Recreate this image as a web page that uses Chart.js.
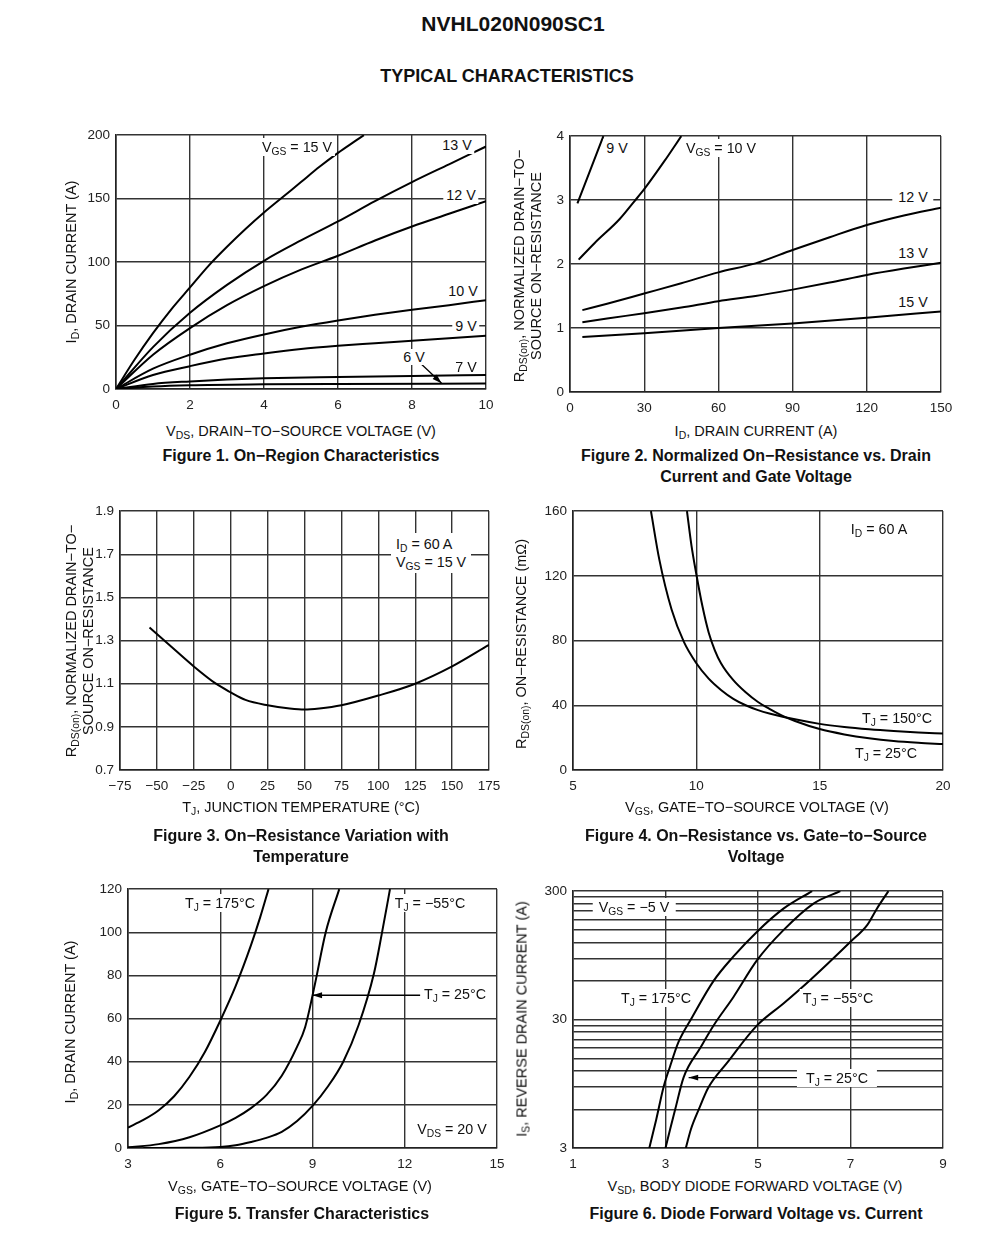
<!DOCTYPE html>
<html>
<head>
<meta charset="utf-8">
<script src="https://cdn.jsdelivr.net/npm/chart.js@4.4.1/dist/chart.umd.min.js"></script>
<style>
  body { margin: 0; background: #fff; font-family: "Liberation Sans", Arial, sans-serif; color: #111; }
  #page { position: relative; width: 1000px; height: 1250px; overflow: hidden; }
  canvas { position: absolute; }
  .head { position: absolute; font-weight: bold; white-space: nowrap; transform: translate(-50%, -50%); }
  .lbl { position: absolute; white-space: nowrap; font-size: 14.3px; line-height: 16px; background: #fff; padding: 1px 3px; transform: translate(-50%, -50%); }
  .box { position: absolute; white-space: nowrap; font-size: 14.3px; line-height: 18px; background: #fff; padding: 2px 5px; }
  .cap { position: absolute; font-weight: bold; font-size: 16px; line-height: 21px; text-align: center; white-space: nowrap; transform: translateX(-50%); }
  .xt { position: absolute; font-size: 14.5px; white-space: nowrap; transform: translate(-50%, -50%); }
  .yt { position: absolute; font-size: 14.5px; line-height: 17px; text-align: center; white-space: nowrap; transform: translate(-50%, -50%) rotate(-90deg); }
  sub { font-size: 0.72em; vertical-align: -0.3em; line-height: 0; }
</style>
</head>
<body>
<div id="page">
  <div class="head" style="left:513px;top:24px;font-size:21px">NVHL020N090SC1</div>
  <div class="head" style="left:507px;top:76px;font-size:18px">TYPICAL CHARACTERISTICS</div>
</div>

<script>
// ---- Figure 1: ID vs VDS, one curve per VGS
const fig1_xTicks = [0, 2, 4, 6, 8, 10];
const fig1_yTicks = [0, 50, 100, 150, 200];
const fig1_vgs15 = [[0,0],[0.5,23],[1,44],[1.5,63],[2,80],[2.5,97],[3,112],[3.5,126],[4,139],[4.5,151],[5,163],[5.5,175],[6,186],[6.5,196],[6.7,200]];
const fig1_vgs13 = [[0,0],[1,33],[2,60],[3,82],[4,101],[5,117],[6,132],[7,148],[8,163],[9,177],[10,191]];
const fig1_vgs12 = [[0,0],[1,27],[2,48],[3,66],[4,81],[5,94],[6,105],[7,117],[8,128],[9,138],[10,148]];
const fig1_vgs10 = [[0,0],[1,16],[2,27],[3,36],[4,43],[5,49],[6,54],[7,58.5],[8,62.5],[9,66],[10,70]];
const fig1_vgs9 = [[0,0],[1,11],[2,18],[3,24],[4,28],[5,31.5],[6,34],[7,36],[8,38],[9,40],[10,42]];
const fig1_vgs7 = [[0,0],[1,4],[2,6],[3,7.5],[4,8.5],[6,9.5],[8,10.3],[10,11]];
const fig1_vgs6 = [[0,0],[1,2],[2,3],[4,3.7],[6,4],[10,4.3]];

// ---- Figure 2: normalized RDS(on) vs ID
const fig2_xTicks = [0, 30, 60, 90, 120, 150];
const fig2_yTicks = [0, 1, 2, 3, 4];
const fig2_vgs9 = [[3,2.95],[8,3.45],[13.5,4]];
const fig2_vgs10 = [[3.5,2.07],[10,2.33],[20,2.7],[26,2.98],[30,3.17],[38,3.6],[45,4]];
const fig2_vgs12 = [[5,1.28],[15,1.38],[30,1.54],[45,1.7],[60,1.87],[75,2.01],[90,2.22],[105,2.42],[120,2.61],[135,2.76],[150,2.88]];
const fig2_vgs13 = [[5,1.09],[15,1.15],[30,1.23],[45,1.32],[60,1.42],[75,1.5],[90,1.6],[105,1.71],[120,1.83],[135,1.93],[150,2.02]];
const fig2_vgs15 = [[5,0.86],[30,0.92],[60,1.0],[90,1.07],[120,1.16],[150,1.26]];

// ---- Figure 3: normalized RDS(on) vs TJ
const fig3_xTicks = [-75, -50, -25, 0, 25, 50, 75, 100, 125, 150, 175];
const fig3_yTicks = [0.7, 0.9, 1.1, 1.3, 1.5, 1.7, 1.9];
const fig3_rds = [[-55,1.36],[-40,1.27],[-25,1.18],[-10,1.1],[0,1.06],[10,1.025],[25,1.0],[40,0.985],[50,0.98],[60,0.985],[75,1.0],[100,1.045],[125,1.1],[150,1.18],[175,1.28]];

// ---- Figure 4: RDS(on) vs VGS
const fig4_xTicks = [5, 10, 15, 20];
const fig4_yTicks = [0, 40, 80, 120, 160];
const fig4_tj150 = [[8.16,160],[8.5,130],[9,99],[9.5,79],[10,66],[10.5,56.5],[11,49.5],[11.5,44],[12,40],[12.5,37],[13,34.8],[14,31.3],[15,28.5],[16,26.6],[17,25.2],[18,24.1],[19,23.2],[20,22.5]];
const fig4_tj25 = [[9.62,160],[9.8,139],[10,121],[10.25,101],[10.5,85],[10.75,74],[11,66],[11.5,55.5],[12,48],[12.5,42],[13,37.5],[13.5,33.5],[14,30.3],[15,25.3],[16,22],[17,19.6],[18,17.9],[19,16.8],[20,16]];

// ---- Figure 5: transfer characteristics
const fig5_xTicks = [3, 6, 9, 12, 15];
const fig5_yTicks = [0, 20, 40, 60, 80, 100, 120];
const fig5_tj175 = [[3,9.5],[3.5,13],[4,17.5],[4.5,24],[5,33],[5.5,44.5],[6,59],[6.5,75],[7,94],[7.3,107],[7.57,120]];
const fig5_tj25 = [[3,0.3],[4,1.8],[5,5],[6,10.5],[6.5,14],[7,18.5],[7.5,24.5],[8,33.5],[8.5,47],[8.76,56],[9.08,76],[9.43,100],[9.87,120]];
const fig5_tjm55 = [[3.5,0],[5,0.1],[6,0.5],[6.5,1.3],[7,2.8],[7.5,4.7],[8,7.5],[8.5,12.5],[9,19.5],[9.5,28.5],[10,40],[10.5,57],[11,81],[11.25,99],[11.52,120]];

// ---- Figure 6: diode forward voltage vs current (log y)
const fig6_xTicks = [1, 3, 5, 7, 9];
const fig6_yTicks = [3, 6, 9, 12, 15, 18, 21, 24, 27, 30, 60, 90, 120, 150, 180, 210, 240, 270, 300];
const fig6_yLabels = [3, 30, 300];
const fig6_tj175 = [[2.65,3],[2.8,5],[2.96,9],[3.1,13],[3.28,20],[3.57,31],[4.04,60],[4.47,93],[4.98,145],[5.55,219],[6.17,300]];
const fig6_tj25 = [[3.0,3],[3.1,4.2],[3.21,6],[3.39,10.6],[3.75,18],[4.04,27],[4.47,45],[4.98,87],[5.55,149],[6.2,240],[6.78,300]];
const fig6_tjm55 = [[3.44,3],[3.55,4.2],[3.72,6],[3.93,8.9],[4.33,13.8],[4.98,27],[5.55,40],[6.13,61],[7.0,121],[7.36,163],[7.57,219],[7.82,300]];

const page = document.getElementById('page');
const PAD = { l: 60, t: 12, r: 22, b: 30 };
const FONT = { family: '"Liberation Sans", Arial, sans-serif', size: 13.5 };

function fmt(v) {
  return String(v).replace('-', '\u2212');
}

function axis(ticks, dir, log, shown) {
  return {
    type: log ? 'logarithmic' : 'linear',
    min: ticks[0],
    max: ticks[ticks.length - 1],
    afterBuildTicks: sc => { sc.ticks = ticks.map(v => ({ value: v })); },
    afterFit: sc => { if (dir === 'x') sc.height = PAD.b; else sc.width = PAD.l; },
    grid: { color: '#333', lineWidth: 1.4, drawTicks: false },
    border: { color: '#222', width: 1.6 },
    ticks: {
      autoSkip: false, maxRotation: 0, padding: dir === 'x' ? 8 : 6,
      color: '#222', font: FONT,
      callback: v => (shown && !shown.includes(v)) ? '' : fmt(v)
    }
  };
}

// arrows given in data units, drawn through the chart scales
function arrowPlugin(arrows) {
  return {
    id: 'arrows',
    afterDatasetsDraw(chart) {
      const ctx = chart.ctx, sx = chart.scales.x, sy = chart.scales.y;
      ctx.save();
      ctx.strokeStyle = '#000'; ctx.fillStyle = '#000'; ctx.lineWidth = 1.3;
      arrows.forEach(a => {
        const x0 = sx.getPixelForValue(a[0][0]), y0 = sy.getPixelForValue(a[0][1]);
        const x1 = sx.getPixelForValue(a[1][0]), y1 = sy.getPixelForValue(a[1][1]);
        const ang = Math.atan2(y1 - y0, x1 - x0);
        ctx.beginPath(); ctx.moveTo(x0, y0); ctx.lineTo(x1, y1); ctx.stroke();
        ctx.beginPath();
        ctx.moveTo(x1, y1);
        ctx.lineTo(x1 - 10 * Math.cos(ang - 0.3), y1 - 10 * Math.sin(ang - 0.3));
        ctx.lineTo(x1 - 10 * Math.cos(ang + 0.3), y1 - 10 * Math.sin(ang + 0.3));
        ctx.closePath(); ctx.fill();
      });
      ctx.restore();
    }
  };
}

function plot(box, x, y, curves, arrows) {
  const w = box.r - box.l + PAD.l + PAD.r, h = box.b - box.t + PAD.t + PAD.b;
  const cv = document.createElement('canvas');
  cv.width = w; cv.height = h;
  cv.style.left = (box.l - PAD.l) + 'px';
  cv.style.top = (box.t - PAD.t) + 'px';
  cv.style.width = w + 'px'; cv.style.height = h + 'px';
  page.insertBefore(cv, page.firstChild);
  new Chart(cv, {
    type: 'line',
    data: {
      datasets: curves.map(c => ({
        data: c.map(p => ({ x: p[0], y: p[1] })),
        borderColor: '#000', borderWidth: 2, pointRadius: 0,
        cubicInterpolationMode: 'monotone', fill: false
      }))
    },
    options: {
      responsive: false, animation: false, devicePixelRatio: 1,
      layout: { padding: { left: 0, top: PAD.t, right: PAD.r, bottom: 0 } },
      plugins: { legend: { display: false }, tooltip: { enabled: false } },
      scales: { x: x, y: y }
    },
    plugins: arrows ? [arrowPlugin(arrows)] : []
  });
}

plot({ l: 116, t: 133, r: 486, b: 389 },
  axis(fig1_xTicks, 'x'), axis(fig1_yTicks, 'y'),
  [fig1_vgs15, fig1_vgs13, fig1_vgs12, fig1_vgs10, fig1_vgs9, fig1_vgs7, fig1_vgs6],
  [[[8.2, 21], [8.8, 4.5]]]);

plot({ l: 570, t: 134, r: 941, b: 392 },
  axis(fig2_xTicks, 'x'), axis(fig2_yTicks, 'y'),
  [fig2_vgs9, fig2_vgs10, fig2_vgs12, fig2_vgs13, fig2_vgs15]);

plot({ l: 120, t: 509, r: 489, b: 770 },
  axis(fig3_xTicks, 'x'), axis(fig3_yTicks, 'y'),
  [fig3_rds]);

plot({ l: 573, t: 509, r: 943, b: 770 },
  axis(fig4_xTicks, 'x'), axis(fig4_yTicks, 'y'),
  [fig4_tj150, fig4_tj25]);

plot({ l: 128, t: 887, r: 497, b: 1148 },
  axis(fig5_xTicks, 'x'), axis(fig5_yTicks, 'y'),
  [fig5_tj175, fig5_tj25, fig5_tjm55],
  [[[12.5, 70.8], [9.0, 70.8]]]);

plot({ l: 573, t: 889, r: 943, b: 1148 },
  axis(fig6_xTicks, 'x'), axis(fig6_yTicks, 'y', true, fig6_yLabels),
  [fig6_tj175, fig6_tj25, fig6_tjm55],
  [[[5.85, 10.6], [3.5, 10.6]]]);

// ---- text: curve labels, axis titles, captions
const texts = `
<div class="lbl" style="left:297px;top:147px">V<sub>GS</sub> = 15 V</div>
<div class="lbl" style="left:457px;top:145px">13 V</div>
<div class="lbl" style="left:461px;top:195px">12 V</div>
<div class="lbl" style="left:463px;top:291px">10 V</div>
<div class="lbl" style="left:466px;top:326px">9 V</div>
<div class="lbl" style="left:414px;top:357px;padding:0 1px">6 V</div>
<div class="lbl" style="left:466px;top:367px;background:none">7 V</div>
<div class="xt" style="left:301px;top:431px">V<sub>DS</sub>, DRAIN\u2212TO\u2212SOURCE VOLTAGE (V)</div>
<div class="yt" style="left:71px;top:262px">I<sub>D</sub>, DRAIN CURRENT (A)</div>
<div class="cap" style="left:301px;top:445px">Figure 1. On\u2212Region Characteristics</div>

<div class="lbl" style="left:617px;top:148px">9 V</div>
<div class="lbl" style="left:721px;top:148px">V<sub>GS</sub> = 10 V</div>
<div class="lbl" style="left:913px;top:197px;padding:1px 6px">12 V</div>
<div class="lbl" style="left:913px;top:253px;padding:1px 6px">13 V</div>
<div class="lbl" style="left:913px;top:302px">15 V</div>
<div class="xt" style="left:756px;top:431px">I<sub>D</sub>, DRAIN CURRENT (A)</div>
<div class="yt" style="left:528px;top:266px">R<sub>DS(on)</sub>, NORMALIZED DRAIN\u2212TO\u2212<br>SOURCE ON\u2212RESISTANCE</div>
<div class="cap" style="left:756px;top:445px">Figure 2. Normalized On\u2212Resistance vs. Drain<br>Current and Gate Voltage</div>

<div class="box" style="left:391px;top:533px">I<sub>D</sub> = 60 A<br>V<sub>GS</sub> = 15 V</div>
<div class="xt" style="left:301px;top:807px">T<sub>J</sub>, JUNCTION TEMPERATURE (\u00b0C)</div>
<div class="yt" style="left:80px;top:641px">R<sub>DS(on)</sub>, NORMALIZED DRAIN\u2212TO\u2212<br>SOURCE ON\u2212RESISTANCE</div>
<div class="cap" style="left:301px;top:825px">Figure 3. On\u2212Resistance Variation with<br>Temperature</div>

<div class="lbl" style="left:879px;top:529px">I<sub>D</sub> = 60 A</div>
<div class="lbl" style="left:897px;top:718px;background:none">T<sub>J</sub> = 150\u00b0C</div>
<div class="lbl" style="left:886px;top:753px;background:none">T<sub>J</sub> = 25\u00b0C</div>
<div class="xt" style="left:757px;top:807px">V<sub>GS</sub>, GATE\u2212TO\u2212SOURCE VOLTAGE (V)</div>
<div class="yt" style="left:521px;top:644px">R<sub>DS(on)</sub>, ON\u2212RESISTANCE (m\u03a9)</div>
<div class="cap" style="left:756px;top:825px">Figure 4. On\u2212Resistance vs. Gate\u2212to\u2212Source<br>Voltage</div>

<div class="lbl" style="left:220px;top:903px">T<sub>J</sub> = 175\u00b0C</div>
<div class="lbl" style="left:430px;top:903px">T<sub>J</sub> = \u221255\u00b0C</div>
<div class="lbl" style="left:455px;top:994px">T<sub>J</sub> = 25\u00b0C</div>
<div class="lbl" style="left:452px;top:1129px">V<sub>DS</sub> = 20 V</div>
<div class="xt" style="left:300px;top:1186px">V<sub>GS</sub>, GATE\u2212TO\u2212SOURCE VOLTAGE (V)</div>
<div class="yt" style="left:70px;top:1022px">I<sub>D</sub>, DRAIN CURRENT (A)</div>
<div class="cap" style="left:302px;top:1203px">Figure 5. Transfer Characteristics</div>

<div class="lbl" style="left:634px;top:907px;padding:1px 6px">V<sub>GS</sub> = \u22125 V</div>
<div class="lbl" style="left:656px;top:998px">T<sub>J</sub> = 175\u00b0C</div>
<div class="lbl" style="left:838px;top:998px">T<sub>J</sub> = \u221255\u00b0C</div>
<div class="lbl" style="left:837px;top:1078px;padding:1px 9px">T<sub>J</sub> = 25\u00b0C</div>
<div class="xt" style="left:755px;top:1186px">V<sub>SD</sub>, BODY DIODE FORWARD VOLTAGE (V)</div>
<div class="yt" style="left:522px;top:1019px">I<sub>S</sub>, REVERSE DRAIN CURRENT (A)</div>
<div class="cap" style="left:756px;top:1203px">Figure 6. Diode Forward Voltage vs. Current</div>
`;
page.insertAdjacentHTML('beforeend', texts);
</script>
</body>
</html>
